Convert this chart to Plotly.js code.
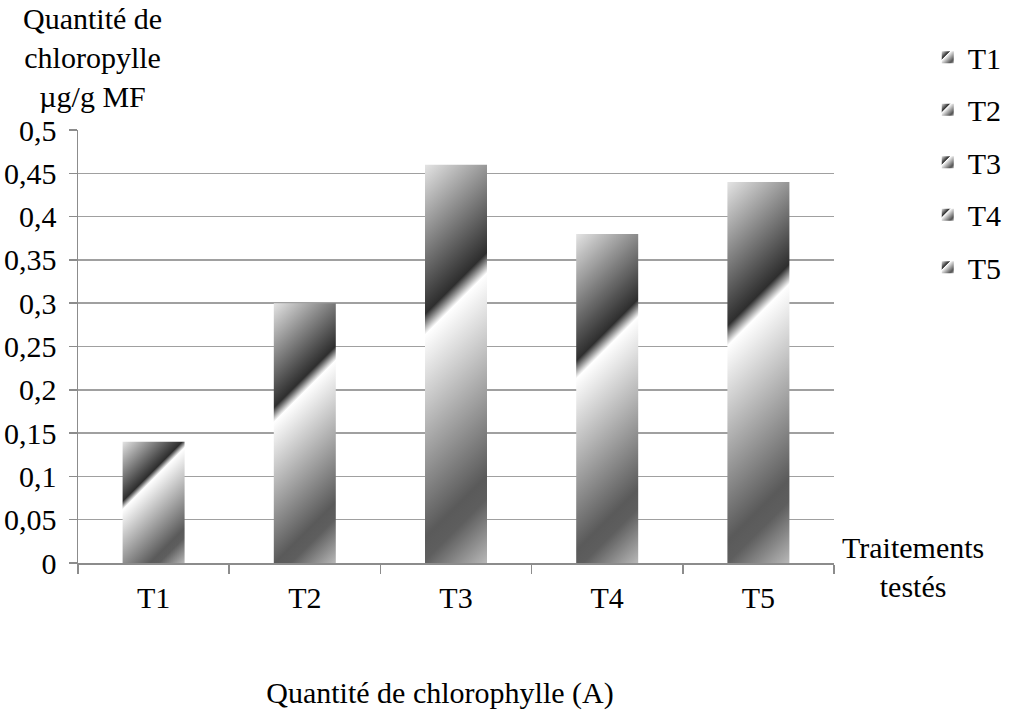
<!DOCTYPE html>
<html>
<head>
<meta charset="utf-8">
<script src="https://cdn.plot.ly/plotly-3.0.1.min.js"></script>
<style>html,body{margin:0;padding:0;background:#fff;}#chart{width:1009px;height:710px;}</style>
</head>
<body>
<div id="chart"></div>
<script>
// ---- data ----
const categories = ['T1', 'T2', 'T3', 'T4', 'T5'];
const values = [0.14, 0.30, 0.46, 0.38, 0.44];
const yTickVals = [0, 0.05, 0.1, 0.15, 0.2, 0.25, 0.3, 0.35, 0.4, 0.45, 0.5];
const yTickText = ['0', '0,05', '0,1', '0,15', '0,2', '0,25', '0,3', '0,35', '0,4', '0,45', '0,5'];
const chartTitle = 'Quantité de chlorophylle (A)';
const yTitleLines = ['Quantité de', 'chloropylle', 'µg/g MF'];
const xTitleLines = ['Traitements', 'testés'];

const FONT = "'Liberation Serif', Tinos, 'Times New Roman', Times, serif";

const traces = categories.map((c, i) => ({
  type: 'bar',
  x: [c],
  y: [values[i]],
  name: c,
  legendgroup: c,
  width: 0.41,
  marker: { color: '#888888', line: { width: 0 } },
  hoverinfo: 'none'
}));

const layout = {
  width: 1009,
  height: 710,
  margin: { l: 78, r: 175, t: 130, b: 147, autoexpand: false },
  paper_bgcolor: '#ffffff',
  plot_bgcolor: '#ffffff',
  font: { family: FONT, size: 30, color: '#000000' },
  barmode: 'overlay',
  showlegend: true,
  legend: {
    x: 1.124, xanchor: 'left',
    y: 1.228, yanchor: 'top',
    font: { family: FONT, size: 30, color: '#000' },
    traceorder: 'grouped',
    tracegroupgap: 10.5,
    bgcolor: 'rgba(0,0,0,0)',
    borderwidth: 0
  },
  title: {
    text: chartTitle,
    font: { family: FONT, size: 30, color: '#000' },
    xref: 'container', x: 440 / 1009, xanchor: 'center',
    yref: 'container', y: 1 - 692 / 710, yanchor: 'middle'
  },
  xaxis: {
    type: 'category',
    categoryorder: 'array',
    categoryarray: categories,
    showline: true,
    linecolor: '#8c8c8c',
    linewidth: 1.5,
    showgrid: false,
    ticks: 'outside',
    tickson: 'boundaries',
    ticklen: 9,
    tickcolor: '#8c8c8c',
    tickwidth: 1.5,
    tickfont: { family: FONT, size: 30, color: '#000' },
    ticklabelstandoff: 7,
    fixedrange: true
  },
  yaxis: {
    range: [0, 0.5],
    tickmode: 'array',
    tickvals: yTickVals,
    ticktext: yTickText,
    showline: true,
    linecolor: '#8c8c8c',
    linewidth: 1.5,
    showgrid: true,
    gridcolor: '#a0a0a0',
    gridwidth: 1.5,
    zeroline: false,
    ticks: 'outside',
    ticklen: 8,
    tickcolor: '#8c8c8c',
    tickwidth: 1.5,
    tickfont: { family: FONT, size: 30, color: '#000' },
    ticklabelstandoff: 6,
    fixedrange: true
  },
  annotations: [
    {
      text: yTitleLines.join('<br>'),
      xref: 'paper', yref: 'paper',
      x: (92 - 78) / 756, y: (563 - 58) / 433,
      xanchor: 'center', yanchor: 'middle',
      align: 'center', showarrow: false,
      font: { family: FONT, size: 30, color: '#000' }
    },
    {
      text: xTitleLines.join('<br>'),
      xref: 'paper', yref: 'paper',
      x: (913 - 78) / 756, y: (563 - 567) / 433,
      xanchor: 'center', yanchor: 'middle',
      align: 'center', showarrow: false,
      font: { family: FONT, size: 30, color: '#000' }
    }
  ]
};

const SVGNS = 'http://www.w3.org/2000/svg';
let gradCount = 0;
function applyGradient(path) {
  const svg = path.ownerSVGElement;
  let defs = svg.querySelector('defs.custom-grad');
  if (!defs) {
    defs = document.createElementNS(SVGNS, 'defs');
    defs.setAttribute('class', 'custom-grad');
    svg.insertBefore(defs, svg.firstChild);
  }
  const bb = path.getBBox();
  if (!bb.width || !bb.height) return;
  const s = (bb.width + bb.height) / 2;
  const id = 'barGrad' + (gradCount++);
  const g = document.createElementNS(SVGNS, 'linearGradient');
  g.setAttribute('id', id);
  g.setAttribute('gradientUnits', 'userSpaceOnUse');
  g.setAttribute('x1', bb.x);
  g.setAttribute('y1', bb.y);
  g.setAttribute('x2', bb.x + s);
  g.setAttribute('y2', bb.y + s);
  const stops = [
    [0, '#e4e4e4'],
    [0.325, '#2e2e2e'],
    [0.37, '#ffffff'],
    [0.81, '#5a5a5a'],
    [0.86, '#5e5e5e'],
    [1, '#b8b8b8']
  ];
  stops.forEach(([o, c]) => {
    const st = document.createElementNS(SVGNS, 'stop');
    st.setAttribute('offset', o);
    st.setAttribute('stop-color', c);
    g.appendChild(st);
  });
  defs.appendChild(g);
  path.style.fill = 'url(#' + id + ')';
  path.style.fillOpacity = 1;
}

Plotly.newPlot('chart', traces, layout, { staticPlot: true, displayModeBar: false }).then(gd => {
  gd.querySelectorAll('.barlayer .point path').forEach(applyGradient);
  gd.querySelectorAll('.legend .legendpoints path').forEach(applyGradient);
});
</script>
</body>
</html>
